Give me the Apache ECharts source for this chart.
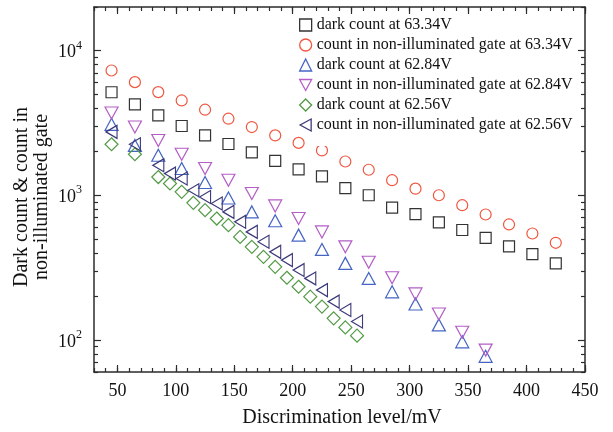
<!DOCTYPE html>
<html>
<head>
<meta charset="utf-8">
<script src="https://cdn.jsdelivr.net/npm/echarts@6/dist/echarts.min.js"></script>
<style>
  html, body { margin: 0; padding: 0; background: #fff; }
  #chart { width: 613px; height: 432px; }
</style>
</head>
<body>
<div id="chart"></div>
<script>
// Discrimination levels (mV)
const levels63 = [45, 65, 85, 105, 125, 145, 165, 185, 205, 225, 245, 265, 285, 305, 325, 345, 365, 385, 405, 425];
const levels62_84 = [45, 65, 85, 105, 125, 145, 165, 185, 205, 225, 245, 265, 285, 305, 325, 345, 365];
const levels62_56 = [45, 65, 85, 95, 105, 115, 125, 135, 145, 155, 165, 175, 185, 195, 205, 215, 225, 235, 245, 255];

// Counts at 63.34 V
const dark63_34 = [5150, 4250, 3560, 3010, 2590, 2260, 1980, 1730, 1510, 1350, 1120, 1000, 820, 740, 650, 575, 508, 443, 392, 338];
const gate63_34 = [7280, 6050, 5160, 4520, 3900, 3380, 2960, 2590, 2300, 2040, 1710, 1500, 1270, 1110, 1000, 853, 736, 628, 544, 469];
// Counts at 62.84 V
const dark62_84 = [3090, 2210, 1890, 1530, 1225, 957, 767, 666, 530, 422, 338, 266, 215, 177, 127, 97, 77];
const gate62_84 = [3700, 2960, 2390, 1920, 1530, 1270, 1028, 844, 690, 558, 440, 344, 269, 208, 151, 113, 85];
// Counts at 62.56 V
const dark62_56 = [2250, 1920, 1336, 1205, 1055, 886, 788, 690, 621, 515, 440, 375, 320, 269, 233, 199, 170, 141, 122, 107];
const gate62_56 = [2740, 2250, 1610, 1412, 1305, 1082, 972, 877, 767, 655, 558, 477, 406, 356, 304, 266, 221, 184, 161, 134];

const seriesNames = [
  'dark count at 63.34V',
  'count in non-illuminated gate at 63.34V',
  'dark count at 62.84V',
  'count in non-illuminated gate at 62.84V',
  'dark count at 62.56V',
  'count in non-illuminated gate at 62.56V'
];

// Axis ticks
const xRange = [30, 450];
const xMajorTicks = [50, 100, 150, 200, 250, 300, 350, 400, 450];
const xMinorTicks = [];
for (let v = 30; v <= 450; v += 10) xMinorTicks.push(v);
const yRange = [60, 20000];
const yDecades = [2, 3, 4];
const yMinorTicks = [60, 70, 80, 90, 200, 300, 400, 500, 600, 700, 800, 900,
                     2000, 3000, 4000, 5000, 6000, 7000, 8000, 9000, 20000];

const FONT = '"Liberation Serif", "Times New Roman", serif';
const INK = '#2b2b2b';

// Legend glyphs for the rotated triangle markers
const ICON_DOWN = 'path://M0,0L12,0L6,11Z';
const ICON_LEFT = 'path://M11,0L11,12L0,6Z';

function pairs(xs, ys) { return xs.map((x, i) => [x, ys[i]]); }

function hollow(name, xs, ys, color, symbol, size, rotate) {
  return {
    name: name,
    type: 'scatter',
    xAxisIndex: 0,
    yAxisIndex: 0,
    data: pairs(xs, ys),
    symbol: symbol,
    symbolSize: size,
    symbolRotate: rotate || 0,
    itemStyle: { color: 'rgba(0,0,0,0)', borderColor: color, borderWidth: 1.2, opacity: 1 },
    emphasis: { disabled: true },
    z: 2
  };
}

const logMin = Math.log10(yRange[0]);
const logMax = Math.log10(yRange[1]);

function frameX(position, ticks, len, withLabels, withLine) {
  return {
    type: 'value', min: xRange[0], max: xRange[1], position: position,
    axisLine: { show: withLine, onZero: false, lineStyle: { color: INK, width: 1.5 } },
    axisTick: { show: true, inside: true, length: len, customValues: ticks, lineStyle: { color: INK, width: 1.2 } },
    axisLabel: withLabels
      ? { show: true, customValues: xMajorTicks, margin: 10, fontFamily: FONT, fontSize: 18, color: '#111' }
      : { show: false },
    splitLine: { show: false }
  };
}

function frameY(position, ticks, len, withLabels, withLine) {
  return {
    type: 'value', min: logMin, max: logMax, position: position,
    axisLine: { show: withLine, onZero: false, lineStyle: { color: INK, width: 1.5 } },
    axisTick: { show: true, inside: true, length: len, customValues: ticks, lineStyle: { color: INK, width: 1.2 } },
    axisLabel: withLabels
      ? {
          show: true, customValues: yDecades, margin: 12,
          formatter: v => '{b|10}{s|' + Math.round(v) + '}',
          rich: {
            b: { fontFamily: FONT, fontSize: 18, color: '#111', lineHeight: 22, verticalAlign: 'bottom' },
            s: { fontFamily: FONT, fontSize: 12, color: '#111', lineHeight: 22, verticalAlign: 'top', padding: [0, 0, 6, 0] }
          }
        }
      : { show: false },
    splitLine: { show: false }
  };
}

const yMinorLog = yMinorTicks.map(v => Math.log10(v));

const legendIcons = ['rect', 'circle', 'triangle', ICON_DOWN, 'diamond', ICON_LEFT];

const chart = echarts.init(document.getElementById('chart'), null, { renderer: 'canvas' });
chart.setOption({
  backgroundColor: '#fff',
  animation: false,
  grid: { left: 94, right: 28, top: 7, bottom: 60, containLabel: false },
  xAxis: [
    frameX('bottom', xMajorTicks, 7, true, true),
    frameX('bottom', xMinorTicks, 4, false, false),
    frameX('top', xMajorTicks, 7, false, true),
    frameX('top', xMinorTicks, 4, false, false)
  ],
  yAxis: [
    { type: 'log', logBase: 10, min: yRange[0], max: yRange[1], show: false },
    frameY('left', yDecades, 7, true, true),
    frameY('left', yMinorLog, 4, false, false),
    frameY('right', yDecades, 7, false, true),
    frameY('right', yMinorLog, 4, false, false)
  ],
  legend: {
    orient: 'vertical',
    left: 299, top: 15,
    padding: 0,
    itemWidth: 12, itemHeight: 12, itemGap: 0,
    itemStyle: { borderWidth: 1.3 },
    textStyle: { fontFamily: FONT, fontSize: 16, color: '#111', lineHeight: 20 },
    data: seriesNames.map((n, i) => ({ name: n, icon: legendIcons[i] })),
    selectedMode: false,
    z: 5
  },
  graphic: [
    {
      // white panel behind the legend text
      type: 'rect', z: 3, silent: true,
      shape: { x: 313, y: 14, width: 262, height: 132 },
      style: { fill: '#fff' }
    },
    {
      type: 'text', x: 32, y: 197, rotation: Math.PI / 2,
      style: {
        text: 'Dark count & count in\nnon-illuminated gate',
        fontFamily: FONT, fontSize: 20, lineHeight: 20, fill: '#111',
        align: 'center', verticalAlign: 'middle'
      }
    },
    {
      type: 'text', x: 342, y: 418,
      style: {
        text: 'Discrimination level/mV',
        fontFamily: FONT, fontSize: 20, fill: '#111',
        align: 'center', verticalAlign: 'middle'
      }
    }
  ],
  series: [
    hollow(seriesNames[0], levels63, dark63_34, '#333333', 'rect', 11),
    hollow(seriesNames[1], levels63, gate63_34, '#f0563f', 'circle', 11),
    hollow(seriesNames[2], levels62_84, dark62_84, '#4565c4', 'triangle', [13, 12]),
    hollow(seriesNames[3], levels62_84, gate62_84, '#b45ec6', 'triangle', [13, 12], 180),
    hollow(seriesNames[4], levels62_56, dark62_56, '#529a44', 'diamond', 13),
    hollow(seriesNames[5], levels62_56, gate62_56, '#3d3a7a', 'triangle', [13, 11], 90)
  ]
});
</script>
</body>
</html>
